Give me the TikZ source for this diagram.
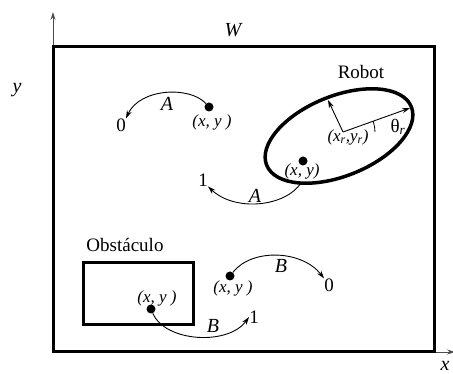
\documentclass[tikz,border=0pt]{standalone}
\usepackage{fontspec}
\setmainfont{Liberation Serif}
\usetikzlibrary{arrows.meta,calc}

\begin{document}
\begin{tikzpicture}[
    x=1pt, y=-1pt,
    every node/.style={inner sep=0pt, font=\fontsize{19}{22}\selectfont},
    coordlabel/.style={font=\fontsize{17}{20}\selectfont\itshape},
    pathlabel/.style={font=\fontsize{20}{24}\selectfont\itshape},
    wall/.style={line width=3pt},
    axis/.style={line width=0.8pt, black!70, -{Stealth[length=8pt, width=5pt]}},
    move/.style={line width=0.9pt, -{Stealth[length=8pt, width=5pt]}},
    pose/.style={circle, fill=black, minimum size=9pt},
]
\useasboundingbox (0,0) rectangle (453,374);

% Workspace and axes
\coordinate (origin) at (53,352);
\coordinate (yend) at (53,12);
\coordinate (xend) at (455,352);
\draw[axis] (origin) -- (yend);
\draw[axis] (origin) -- (xend);
\draw[wall] (53,47) rectangle (434,352);
\node[pathlabel] (wlabel) at (233,30) {W};
\node[pathlabel] (ylabel) at (17,90) {y};
\node[pathlabel] (xlabel) at (445,366) {x};

% Robot
\draw[line width=3.5pt, rotate around={22:(339,136)}] (339,136) ellipse (78 and 40);
\node (robotlabel) at (361,72) {Robot};
\coordinate (rc) at (343,132);
\coordinate (rhead) at (328,100);
\coordinate (rfront) at (410,108);
\draw[line width=0.9pt, -{Stealth[length=8pt, width=5pt]}] (rc) -- (rhead);
\draw[line width=0.9pt, -{Stealth[length=8pt, width=5pt]}] (rc) -- (rfront);
\draw[line width=0.8pt] (rc) ++(-19.7:32) arc[start angle=-19.7, end angle=0, radius=32];
\node[coordlabel] (rclabel) at (348,137) {(x\textsubscript{r},y\textsubscript{r})};
\node (thetalabel) at (398,127) {θ\textsubscript{\textit{r}}};

% Poses
\node[pose] (pa) at (209,107) {};
\node[pose] (pr) at (303,161) {};
\node[pose] (pb) at (230,276) {};
\node[pose] (po) at (151,309) {};
\node[coordlabel] (palabel) at (212,122) {(x, y )};
\node[coordlabel] (prlabel) at (302,171) {(x, y)};
\node[coordlabel] (pblabel) at (233,288) {(x, y )};
\node[coordlabel] (polabel) at (157,298) {(x, y )};

% Obstacle
\draw[wall] (83,263) rectangle (193,325);
\node (obslabel) at (125,245) {Obstáculo};

% Targets
\node (a0) at (121,125) {0};
\node (a1) at (203,180) {1};
\node (b0) at (329,285) {0};
\node (b1) at (254,317) {1};
\coordinate (rstart) at (301,183);

% Motions A and B
\draw[move] (pa) .. controls (190,86) and (140,88) .. (a0.north east);
\draw[move] (rstart) .. controls (285,207) and (235,212) .. (a1.south east);
\draw[move] (pb) .. controls (252,248) and (302,250) .. (b0.north west);
\draw[move] (po) .. controls (165,342) and (228,346) .. (b1.west);
\node[pathlabel] (alabel1) at (167,104) {A};
\node[pathlabel] (alabel2) at (255,196) {A};
\node[pathlabel] (blabel1) at (281,266) {B};
\node[pathlabel] (blabel2) at (213,326) {B};

\end{tikzpicture}
\end{document}
